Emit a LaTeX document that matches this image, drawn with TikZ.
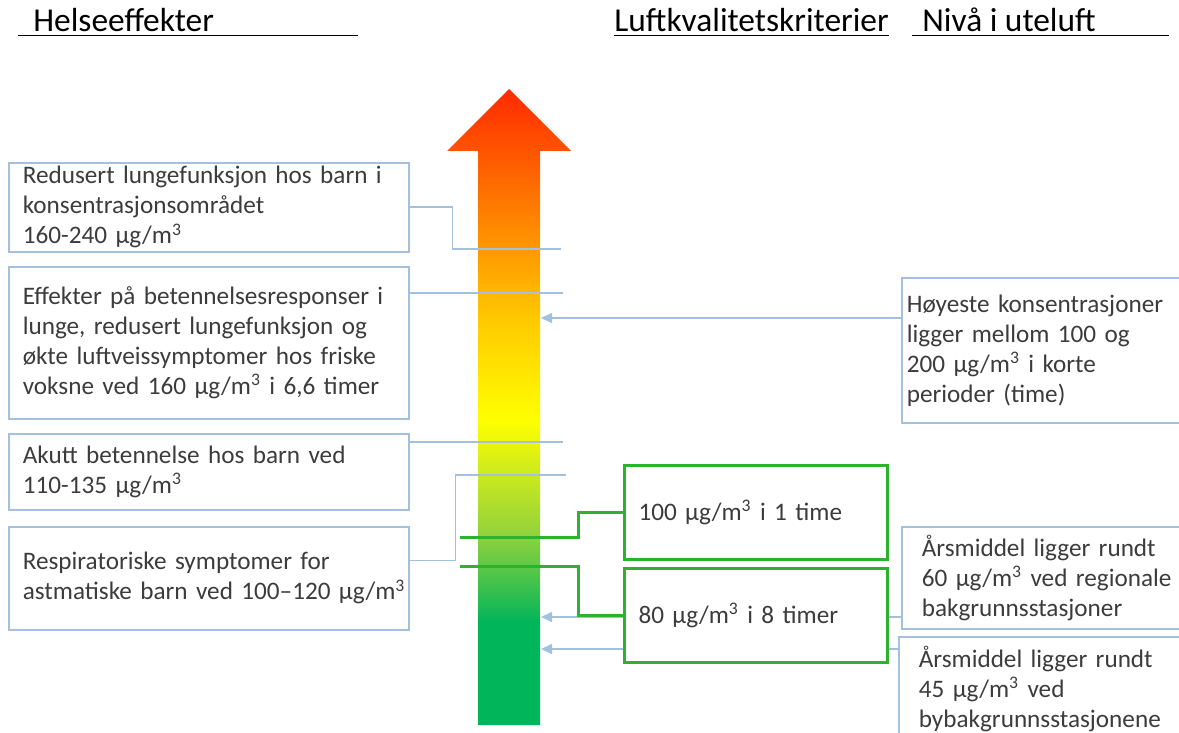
\documentclass[tikz,border=0pt]{standalone}
\usepackage{fontspec}
\setmainfont{Carlito}
\usepackage{tikz}
\usetikzlibrary{arrows.meta, positioning}
\definecolor{colorLink}{RGB}{163,192,222}
\definecolor{colorLimit}{RGB}{44,178,44}
\definecolor{colorText}{RGB}{60,60,60}
\definecolor{colorLow}{RGB}{0,181,90}
\definecolor{colorLime}{RGB}{146,210,60}
\definecolor{colorAmber}{RGB}{255,200,0}
\definecolor{colorOrange}{RGB}{255,138,0}
\definecolor{colorHigh}{RGB}{255,42,0}
\newcommand{\ugm}{µg/m\textsuperscript{3}}
\pgfdeclareverticalshading{levelShade}{100bp}{color(0bp)=(colorLow); color(33bp)=(colorLow); color(40bp)=(colorLime); color(49bp)=(yellow); color(57bp)=(colorAmber); color(64bp)=(colorOrange); color(75bp)=(colorHigh); color(100bp)=(colorHigh)}
\tikzset{
  effect/.style={draw=colorLink, line width=0.8pt, anchor=north west, text=colorText, align=left, minimum width=200pt, text width=186pt, inner xsep=7pt, inner ysep=1pt, font=\fontsize{12.6}{15}\selectfont},
  level/.style={effect, minimum width=150pt, text width=130pt, inner xsep=10pt},
  limit/.style={effect, draw=colorLimit, line width=1.5pt, fill=white, minimum width=131.5pt, text width=117.5pt, inner xsep=7pt, minimum height=47pt},
  heading/.style={anchor=base west, inner sep=0pt, font=\fontsize{16.7}{19}\selectfont},
  link/.style={colorLink, line width=0.8pt},
  limitlink/.style={colorLimit, line width=1.5pt}
}

\begin{document}
\begin{tikzpicture}[x=0.5pt, y=-0.5pt, >={Triangle[length=5.5pt,width=5pt]}]
\useasboundingbox (0,0) rectangle (1179,733);
\clip (0,0) rectangle (1179,733);
\node[heading] (hHelse) at (18,32) {\underline{\makebox[170pt][l]{\hspace*{7.5pt}Helseeffekter}}};
\node[heading] (hKrit) at (614,32) {\underline{Luftkvalitetskriterier}};
\node[heading] (hNiva) at (912,32) {\underline{\makebox[128.5pt][l]{\hspace*{5pt}Nivå i uteluft}}};
\shade[shading=levelShade] (478,725) -- (478,151) -- (447,151) -- (509,89) -- (571,151) -- (540,151) -- (540,725) -- cycle;
\node[effect, minimum height=44.5pt] (e1) at (8,162) {Redusert lungefunksjon hos barn i\\konsentrasjonsområdet\\160-240 \ugm};
\node[effect, minimum height=76pt] (e2) at (8,266) {Effekter på betennelsesresponser i\\lunge, redusert lungefunksjon og\\økte luftveissymptomer hos friske\\voksne ved 160 \ugm{} i 6,6 timer};
\node[effect, minimum height=38pt] (e3) at (8,433) {Akutt betennelse hos barn ved\\110-135 \ugm};
\node[effect, minimum height=51.5pt] (e4) at (8,526) {Respiratoriske symptomer for\\\mbox{astmatiske barn ved 100--120 \ugm}};
\node[level, minimum height=72.5pt, inner xsep=2.5pt, text width=145pt] (n1) at (901,277) {Høyeste konsentrasjoner\\ligger mellom 100 og\\200 \ugm{} i korte\\perioder (time)};
\node[level, minimum height=51pt] (n2) at (901,526) {Årsmiddel ligger rundt\\60 \ugm{} ved regionale\\bakgrunnsstasjoner};
\node[level, minimum height=52pt] (n3) at (898,636) {Årsmiddel ligger rundt\\45 \ugm{} ved\\bybakgrunnsstasjonene};
\coordinate (m1) at (561,249);
\coordinate (m2) at (563,293);
\coordinate (m3) at (563,442);
\coordinate (m4) at (566,475);
\coordinate (a1) at (541,318);
\coordinate (a2) at (541,617);
\coordinate (a3) at (541,649);
\coordinate (g1) at (460,537);
\coordinate (g2) at (460,566);
\draw[link] (e1.east) -- ++(43,0) |- (m1);
\draw[link] (e2.east |- m2) -- (m2);
\draw[link] (e3.east |- m3) -- (m3);
\draw[link] ([yshift=9pt]e4.east) -- ++(46,0) |- (m4);
\draw[link, ->] (n1.west |- a1) -- (a1);
\draw[link, ->] (n2.west |- a2) -- (a2);
\draw[link, ->] (n3.west |- a3) -- (a3);
\node[limit] (k1) at (623,464) {100 \ugm{} i 1 time};
\node[limit] (k2) at (623,567) {80 \ugm{} i 8 timer};
\draw[limitlink] (k1.west) -- ++(-45,0) |- (g1);
\draw[limitlink] (k2.west) -- ++(-45,0) |- (g2);
\end{tikzpicture}
\end{document}
